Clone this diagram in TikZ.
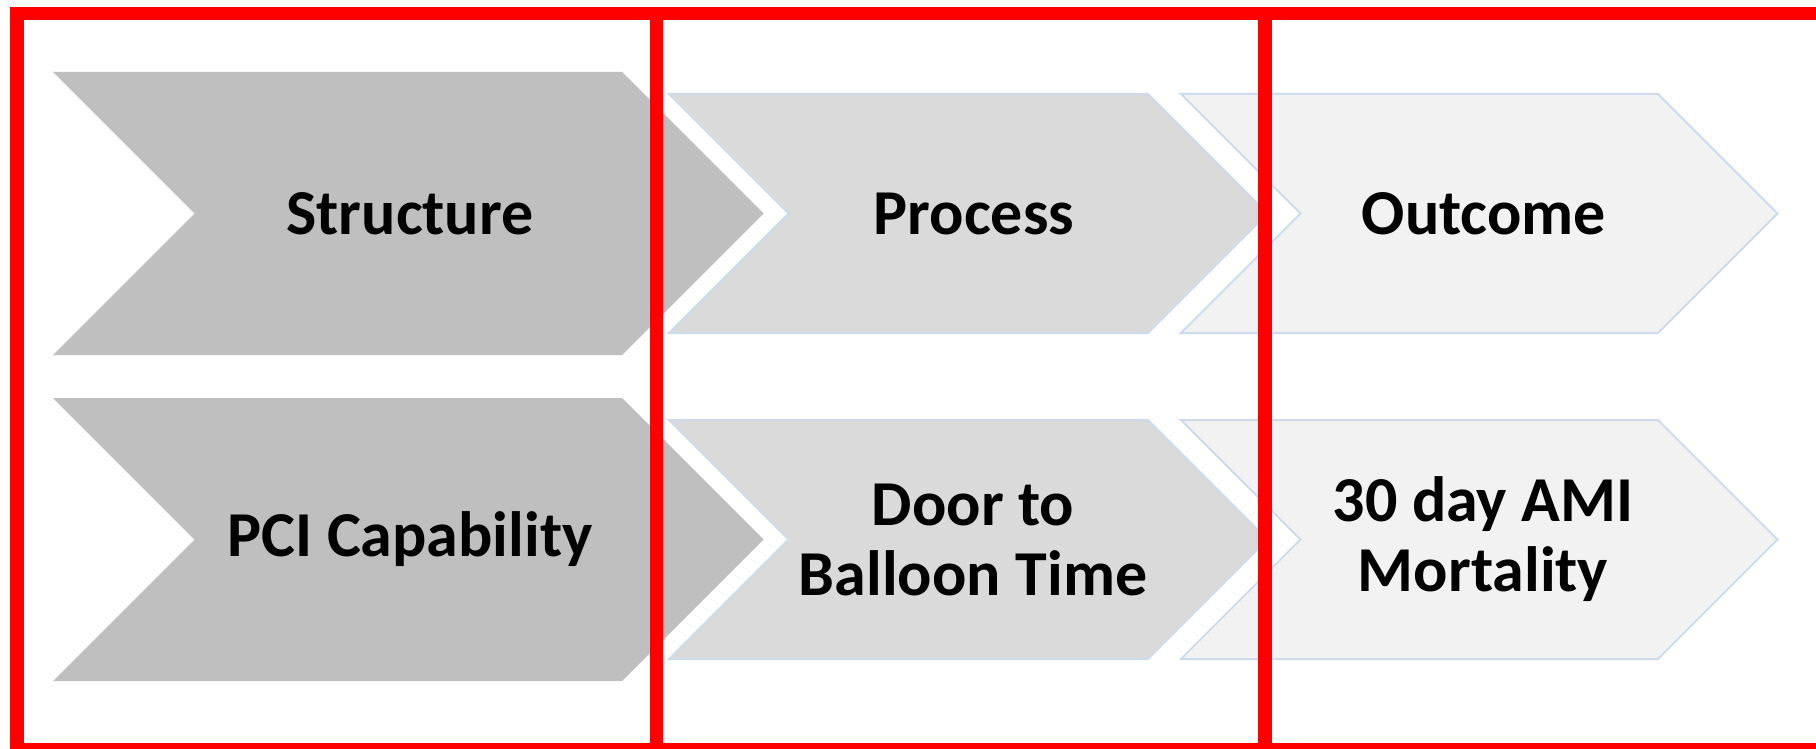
\documentclass[tikz,border=0pt]{standalone}
\usepackage{fontspec}
\setmainfont{Carlito}
\definecolor{darkchev}{RGB}{191,191,191}
\definecolor{midchev}{RGB}{218,218,218}
\definecolor{lightchev}{RGB}{242,242,242}
\definecolor{chevedge}{RGB}{206,219,236}

\begin{document}
\begin{tikzpicture}[x=1pt,y=-1pt,
      every node/.style={font=\bfseries\fontsize{64}{70}\selectfont,align=center,inner sep=0pt},
      edged/.style={draw=chevedge,line width=2pt},
      frame/.style={draw=red,line width=13.5pt}]
      \useasboundingbox (0,0) rectangle (1816,749);
      % the two rows of chevrons
      \foreach \dy in {0,326} {
        \fill[darkchev] (53,72+\dy) -- (622,72+\dy) -- (763.5,213.5+\dy) -- (622,355+\dy)
          -- (53,355+\dy) -- (194.5,213.5+\dy) -- cycle;
        \filldraw[edged,fill=midchev] (669,94+\dy) -- (1148,94+\dy) -- (1267.5,213.5+\dy)
          -- (1148,333+\dy) -- (669,333+\dy) -- (788.5,213.5+\dy) -- cycle;
        \filldraw[edged,fill=lightchev] (1181,94+\dy) -- (1658,94+\dy) -- (1777.5,213.5+\dy)
          -- (1658,333+\dy) -- (1181,333+\dy) -- (1300.5,213.5+\dy) -- cycle;
      }
      \node (structure) at (410,213.5) {Structure};
      \node (process) at (974,213.5) {Process};
      \node (outcome) at (1484,213.5) {Outcome};
      \node (pci) at (410,539.5) {PCI Capability};
      \node (d2b) at (973,539.5) {Door to\\Balloon Time};
      \node (mortality) at (1483,539.5) {30 day AMI\\Mortality};
      % red frames
      \draw[frame] (17,13.5) rectangle (656.5,749.5);
      \draw[frame] (656.5,13.5) rectangle (1265,749.5);
      \draw[frame] (1265,13.5) rectangle (1830,749.5);
    \end{tikzpicture}
\end{document}
